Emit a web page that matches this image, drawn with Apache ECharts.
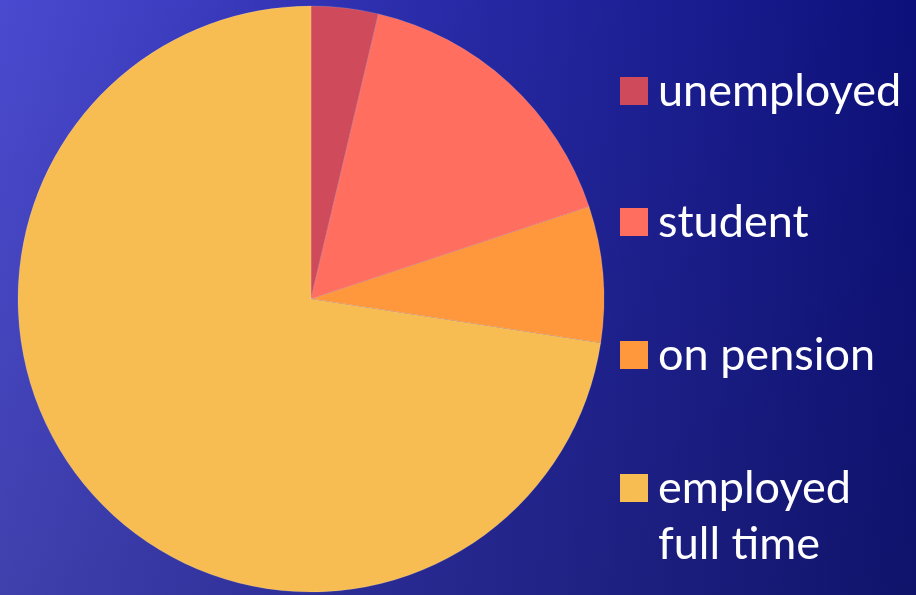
<!DOCTYPE html>
<html><head><meta charset="utf-8">
<script src="https://cdn.jsdelivr.net/npm/echarts@6/dist/echarts.min.js"></script>
<style>
html,body{margin:0;padding:0;}
#bg{position:absolute;left:0;top:0;width:916px;height:595px;
background:linear-gradient(to bottom, rgba(0,0,0,0) 0%, rgba(30,30,50,0.22) 100%), linear-gradient(to right, #4a4ad0 0%, #2a2caa 45%, #0c107a 100%);}
#c{position:absolute;left:0;top:0;width:916px;height:595px;}
</style></head>
<body><div id="bg"></div><div id="c"></div>
<script>
const categories = ['unemployed', 'student', 'on pension', 'employed\nfull time'];
const values = [3.7, 16.2, 7.5, 72.6];
const colors = ['#CF4A5A', '#FF6E5E', '#FF973D', '#F7BC52'];

const chart = echarts.init(document.getElementById('c'), null, {renderer:'canvas'});
const data = categories.map((n,i)=>({name:n, value:values[i], itemStyle:{color:colors[i]}}));
const iconTops = [77, 208, 341, 474];
const legends = categories.map((n,i)=>{
  const multi = n.indexOf('\n') >= 0;
  return {
    orient:'vertical', left:620, top: multi ? iconTops[i]-70 : iconTops[i]-14,
    padding:0,
    itemWidth:28, itemHeight:28, icon:'rect',
    itemStyle:{borderWidth:0},
    data:[n],
    selectedMode:false,
    formatter: multi ? (name => '\u00a0\n' + name) : undefined,
    textStyle:{color:'#ffffff', fontFamily:'Lato', fontSize:45,
      lineHeight:56, padding:[0,0,0,5]}
  };
});
chart.setOption({
  animation:false,
  backgroundColor:'transparent',
  legend:legends,
  series:[{
    type:'pie', center:[311,299], radius:293, startAngle:90, clockwise:true,
    label:{show:false}, labelLine:{show:false},
    itemStyle:{borderColor:'rgba(255,255,255,0.25)', borderWidth:0.6},
    emphasis:{disabled:true},
    data:data
  }]
});
</script></body></html>
